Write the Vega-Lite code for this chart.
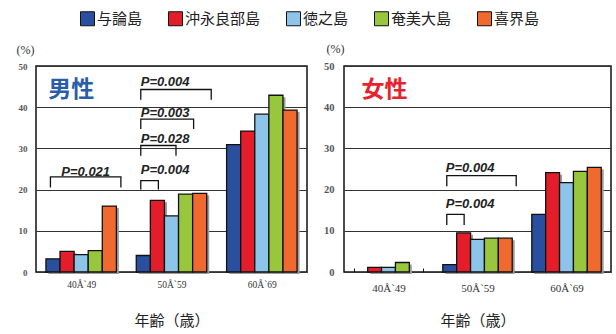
{
  "$schema": "https://vega.github.io/schema/vega-lite/v6.json",
  "background": "white",
  "padding": {"left": 15, "top": 11, "right": 2, "bottom": 2},
  "spacing": 14,
  "datasets": {
    "bars": [
      {"sex": "男性", "age": "40Å`49", "island": "与論島", "pct": 3.2},
      {"sex": "男性", "age": "40Å`49", "island": "沖永良部島", "pct": 5.0},
      {"sex": "男性", "age": "40Å`49", "island": "徳之島", "pct": 4.2},
      {"sex": "男性", "age": "40Å`49", "island": "奄美大島", "pct": 5.2},
      {"sex": "男性", "age": "40Å`49", "island": "喜界島", "pct": 16.0},
      {"sex": "男性", "age": "50Å`59", "island": "与論島", "pct": 4.0},
      {"sex": "男性", "age": "50Å`59", "island": "沖永良部島", "pct": 17.4},
      {"sex": "男性", "age": "50Å`59", "island": "徳之島", "pct": 13.6},
      {"sex": "男性", "age": "50Å`59", "island": "奄美大島", "pct": 18.9},
      {"sex": "男性", "age": "50Å`59", "island": "喜界島", "pct": 19.1},
      {"sex": "男性", "age": "60Å`69", "island": "与論島", "pct": 30.9},
      {"sex": "男性", "age": "60Å`69", "island": "沖永良部島", "pct": 34.2},
      {"sex": "男性", "age": "60Å`69", "island": "徳之島", "pct": 38.3},
      {"sex": "男性", "age": "60Å`69", "island": "奄美大島", "pct": 42.9},
      {"sex": "男性", "age": "60Å`69", "island": "喜界島", "pct": 39.3},
      {"sex": "女性", "age": "40Å`49", "island": "沖永良部島", "pct": 1.1},
      {"sex": "女性", "age": "40Å`49", "island": "徳之島", "pct": 1.1},
      {"sex": "女性", "age": "40Å`49", "island": "奄美大島", "pct": 2.3},
      {"sex": "女性", "age": "50Å`59", "island": "与論島", "pct": 1.8},
      {"sex": "女性", "age": "50Å`59", "island": "沖永良部島", "pct": 9.5},
      {"sex": "女性", "age": "50Å`59", "island": "徳之島", "pct": 7.9},
      {"sex": "女性", "age": "50Å`59", "island": "奄美大島", "pct": 8.2},
      {"sex": "女性", "age": "50Å`59", "island": "喜界島", "pct": 8.2},
      {"sex": "女性", "age": "60Å`69", "island": "与論島", "pct": 14.0},
      {"sex": "女性", "age": "60Å`69", "island": "沖永良部島", "pct": 24.1},
      {"sex": "女性", "age": "60Å`69", "island": "徳之島", "pct": 21.7},
      {"sex": "女性", "age": "60Å`69", "island": "奄美大島", "pct": 24.4},
      {"sex": "女性", "age": "60Å`69", "island": "喜界島", "pct": 25.4}
    ],
    "brackets": [
      {"sex": "男性", "age": "40Å`49", "id": "m1", "island": "与論島", "pct": 20.5, "ord": 1},
      {"sex": "男性", "age": "40Å`49", "id": "m1", "island": "与論島", "pct": 23.1, "ord": 2},
      {"sex": "男性", "age": "40Å`49", "id": "m1", "island": "喜界島", "pct": 23.1, "ord": 3},
      {"sex": "男性", "age": "40Å`49", "id": "m1", "island": "喜界島", "pct": 20.5, "ord": 4},
      {"sex": "男性", "age": "50Å`59", "id": "m2", "island": "与論島", "pct": 20.0, "ord": 1},
      {"sex": "男性", "age": "50Å`59", "id": "m2", "island": "与論島", "pct": 22.2, "ord": 2},
      {"sex": "男性", "age": "50Å`59", "id": "m2", "island": "沖永良部島", "pct": 22.2, "ord": 3},
      {"sex": "男性", "age": "50Å`59", "id": "m2", "island": "沖永良部島", "pct": 20.0, "ord": 4},
      {"sex": "男性", "age": "50Å`59", "id": "m3", "island": "与論島", "pct": 28.2, "ord": 1},
      {"sex": "男性", "age": "50Å`59", "id": "m3", "island": "与論島", "pct": 30.7, "ord": 2},
      {"sex": "男性", "age": "50Å`59", "id": "m3", "island": "徳之島", "pct": 30.7, "ord": 3},
      {"sex": "男性", "age": "50Å`59", "id": "m3", "island": "徳之島", "pct": 28.2, "ord": 4},
      {"sex": "男性", "age": "50Å`59", "id": "m4", "island": "与論島", "pct": 34.7, "ord": 1},
      {"sex": "男性", "age": "50Å`59", "id": "m4", "island": "与論島", "pct": 37.1, "ord": 2},
      {"sex": "男性", "age": "50Å`59", "id": "m4", "island": "奄美大島", "pct": 37.1, "ord": 3},
      {"sex": "男性", "age": "50Å`59", "id": "m4", "island": "奄美大島", "pct": 34.7, "ord": 4},
      {"sex": "男性", "age": "50Å`59", "id": "m5", "island": "与論島", "pct": 41.8, "ord": 1},
      {"sex": "男性", "age": "50Å`59", "id": "m5", "island": "与論島", "pct": 44.3, "ord": 2},
      {"sex": "男性", "age": "50Å`59", "id": "m5", "island": "喜界島", "pct": 44.3, "ord": 3},
      {"sex": "男性", "age": "50Å`59", "id": "m5", "island": "喜界島", "pct": 41.8, "ord": 4},
      {"sex": "女性", "age": "50Å`59", "id": "f1", "island": "与論島", "pct": 11.4, "ord": 1},
      {"sex": "女性", "age": "50Å`59", "id": "f1", "island": "与論島", "pct": 14.0, "ord": 2},
      {"sex": "女性", "age": "50Å`59", "id": "f1", "island": "沖永良部島", "pct": 14.0, "ord": 3},
      {"sex": "女性", "age": "50Å`59", "id": "f1", "island": "沖永良部島", "pct": 11.4, "ord": 4},
      {"sex": "女性", "age": "50Å`59", "id": "f2", "island": "与論島", "pct": 20.8, "ord": 1},
      {"sex": "女性", "age": "50Å`59", "id": "f2", "island": "与論島", "pct": 23.4, "ord": 2},
      {"sex": "女性", "age": "50Å`59", "id": "f2", "island": "喜界島", "pct": 23.4, "ord": 3},
      {"sex": "女性", "age": "50Å`59", "id": "f2", "island": "喜界島", "pct": 20.8, "ord": 4}
    ],
    "pvalues": [
      {"sex": "男性", "age": "40Å`49", "island": "徳之島", "pct": 24.3, "label": "P=0.021"},
      {"sex": "男性", "age": "50Å`59", "island": "与論島", "pct": 24.8, "label": "P=0.004"},
      {"sex": "男性", "age": "50Å`59", "island": "与論島", "pct": 32.2, "label": "P=0.028"},
      {"sex": "男性", "age": "50Å`59", "island": "与論島", "pct": 38.5, "label": "P=0.003"},
      {"sex": "男性", "age": "50Å`59", "island": "与論島", "pct": 46.2, "label": "P=0.004"},
      {"sex": "女性", "age": "50Å`59", "island": "与論島", "pct": 16.5, "label": "P=0.004"},
      {"sex": "女性", "age": "50Å`59", "island": "与論島", "pct": 25.3, "label": "P=0.004"}
    ],
    "panels": [
      {"sex": "男性", "age": "40Å`49", "pct": 44.2},
      {"sex": "女性", "age": "40Å`49", "pct": 44.2}
    ]
  },
  "config": {
    "view": {"stroke": "#111", "strokeWidth": 1.5},
    "axis": {"labelAngle": 0}
  },
  "hconcat": [
    {
      "width": 271,
      "height": 206,
      "encoding": {
        "x": {
          "field": "age", "type": "nominal",
          "scale": {"domain": ["40Å`49", "50Å`59", "60Å`69"], "paddingInner": 0.22, "paddingOuter": 0.11},
          "axis": {
            "title": "年齢（歳）", "domain": false, "tickBand": "extent", "tickSize": -4, "tickColor": "#111", "tickWidth": 1,
            "labelFont": "Liberation Serif", "labelFontSize": 9.5, "labelColor": "#333", "labelPadding": 11,
            "titleFont": "Noto Sans CJK JP", "titleFontSize": 15, "titleFontWeight": "normal", "titleColor": "#222",
            "titleY": 48, "titleBaseline": "middle"
          }
        },
        "y": {
          "field": "pct", "type": "quantitative",
          "scale": {"domain": [0, 50], "nice": false},
          "axis": {
            "title": "(%)", "values": [0, 10, 20, 30, 40, 50], "grid": true, "gridColor": "#333", "gridWidth": 1.2,
            "domain": false, "ticks": false,
            "labelFont": "Liberation Serif", "labelFontSize": 9, "labelFontWeight": "bold", "labelColor": "#555", "labelPadding": 9,
            "titleAngle": 0, "titleX": -20, "titleY": -17, "titleAlign": "left", "titleBaseline": "middle",
            "titleFont": "Liberation Serif", "titleFontSize": 12, "titleFontWeight": "normal", "titleColor": "#333"
          }
        }
      },
      "layer": [
        {
          "data": {"name": "bars"},
          "transform": [{"filter": "datum.sex === '男性'"}],
          "mark": {"type": "bar", "color": "#9c9c9c", "yOffset": 2},
          "encoding": {
            "xOffset": {"field": "island", "type": "nominal", "scale": {"domain": ["与論島", "沖永良部島", "徳之島", "奄美大島", "喜界島"], "range": [2.5, 72.96], "paddingInner": 0, "paddingOuter": 0}}
          }
        },
        {
          "data": {"name": "bars"},
          "transform": [{"filter": "datum.sex === '男性'"}],
          "mark": {"type": "bar", "stroke": "#111", "strokeWidth": 1.3},
          "encoding": {
            "xOffset": {"field": "island", "type": "nominal", "scale": {"domain": ["与論島", "沖永良部島", "徳之島", "奄美大島", "喜界島"], "paddingInner": 0, "paddingOuter": 0}},
            "color": {
              "field": "island", "type": "nominal",
              "scale": {"domain": ["与論島", "沖永良部島", "徳之島", "奄美大島", "喜界島"], "range": ["#2a4f9f", "#e31e2a", "#8dc5ea", "#98c73d", "#f06a2f"]},
              "legend": {
                "orient": "none", "legendX": 44, "legendY": -55, "direction": "horizontal", "title": null,
                "symbolType": "square", "symbolSize": 196, "symbolStrokeColor": "#111", "symbolStrokeWidth": 1,
                "labelFont": "Noto Sans CJK JP", "labelFontSize": 15, "labelColor": "#222", "labelOffset": 2, "columnPadding": 23
              }
            }
          }
        },
        {
          "data": {"name": "brackets"},
          "transform": [{"filter": "datum.sex === '男性'"}],
          "mark": {"type": "line", "color": "#111", "strokeWidth": 1.3},
          "encoding": {
            "xOffset": {"field": "island", "type": "nominal", "scale": {"domain": ["与論島", "沖永良部島", "徳之島", "奄美大島", "喜界島"], "range": [4.5, 74.96], "paddingInner": 0, "paddingOuter": 0}},
            "detail": {"field": "id"},
            "order": {"field": "ord"}
          }
        },
        {
          "data": {"name": "pvalues"},
          "transform": [{"filter": "datum.sex === '男性' && datum.age === '50Å`59'"}],
          "mark": {"type": "text", "align": "left", "baseline": "middle", "dx": 0, "font": "Liberation Sans", "fontStyle": "italic", "fontWeight": "bold", "fontSize": 13, "color": "#222"},
          "encoding": {
            "xOffset": {"field": "island", "type": "nominal", "scale": {"domain": ["与論島", "沖永良部島", "徳之島", "奄美大島", "喜界島"], "range": [4.5, 74.96], "paddingInner": 0, "paddingOuter": 0}},
            "text": {"field": "label"}
          }
        },
        {
          "data": {"name": "pvalues"},
          "transform": [{"filter": "datum.sex === '男性' && datum.age === '40Å`49'"}],
          "mark": {"type": "text", "align": "center", "baseline": "middle", "dx": 0, "font": "Liberation Sans", "fontStyle": "italic", "fontWeight": "bold", "fontSize": 13, "color": "#222"},
          "encoding": {
            "xOffset": {"field": "island", "type": "nominal", "scale": {"domain": ["与論島", "沖永良部島", "徳之島", "奄美大島", "喜界島"], "range": [4.5, 74.96], "paddingInner": 0, "paddingOuter": 0}},
            "text": {"field": "label"}
          }
        },
        {
          "data": {"name": "panels"},
          "transform": [{"filter": "datum.sex === '男性'"}],
          "mark": {"type": "text", "align": "left", "baseline": "middle", "dx": -33, "font": "Noto Sans CJK JP", "fontWeight": "bold", "fontSize": 23, "color": "#2a5caa"},
          "encoding": {
            "text": {"field": "sex"}
          }
        }
      ],
      "resolve": {"scale": {"xOffset": "independent"}}
    },
    {
      "width": 267,
      "height": 206,
      "encoding": {
        "x": {
          "field": "age", "type": "nominal",
          "scale": {"domain": ["40Å`49", "50Å`59", "60Å`69"], "paddingInner": 0.22, "paddingOuter": 0.11},
          "axis": {
            "title": "年齢（歳）", "domain": false, "tickBand": "extent", "tickSize": -4, "tickColor": "#111", "tickWidth": 1,
            "labelFont": "Liberation Serif", "labelFontSize": 11, "labelColor": "#333", "labelPadding": 14,
            "titleFont": "Noto Sans CJK JP", "titleFontSize": 15, "titleFontWeight": "normal", "titleColor": "#222",
            "titleY": 48, "titleBaseline": "middle"
          }
        },
        "y": {
          "field": "pct", "type": "quantitative",
          "scale": {"domain": [0, 50], "nice": false},
          "axis": {
            "title": "(%)", "values": [0, 10, 20, 30, 40, 50], "grid": true, "gridColor": "#333", "gridWidth": 1.2,
            "domain": false, "ticks": false,
            "labelFont": "Liberation Serif", "labelFontSize": 10.5, "labelFontWeight": "bold", "labelColor": "#555", "labelPadding": 10,
            "titleAngle": 0, "titleX": -18, "titleY": -18, "titleAlign": "left", "titleBaseline": "middle",
            "titleFont": "Liberation Serif", "titleFontSize": 12, "titleFontWeight": "normal", "titleColor": "#333"
          }
        }
      },
      "layer": [
        {
          "data": {"name": "bars"},
          "transform": [{"filter": "datum.sex === '女性'"}],
          "mark": {"type": "bar", "color": "#9c9c9c", "yOffset": 2},
          "encoding": {
            "xOffset": {"field": "island", "type": "nominal", "scale": {"domain": ["与論島", "沖永良部島", "徳之島", "奄美大島", "喜界島"], "range": [2.5, 71.92], "paddingInner": 0, "paddingOuter": 0}}
          }
        },
        {
          "data": {"name": "bars"},
          "transform": [{"filter": "datum.sex === '女性'"}],
          "mark": {"type": "bar", "stroke": "#111", "strokeWidth": 1.3},
          "encoding": {
            "xOffset": {"field": "island", "type": "nominal", "scale": {"domain": ["与論島", "沖永良部島", "徳之島", "奄美大島", "喜界島"], "paddingInner": 0, "paddingOuter": 0}},
            "color": {
              "field": "island", "type": "nominal",
              "scale": {"domain": ["与論島", "沖永良部島", "徳之島", "奄美大島", "喜界島"], "range": ["#2a4f9f", "#e31e2a", "#8dc5ea", "#98c73d", "#f06a2f"]}
            }
          }
        },
        {
          "data": {"name": "brackets"},
          "transform": [{"filter": "datum.sex === '女性'"}],
          "mark": {"type": "line", "color": "#111", "strokeWidth": 1.3},
          "encoding": {
            "xOffset": {"field": "island", "type": "nominal", "scale": {"domain": ["与論島", "沖永良部島", "徳之島", "奄美大島", "喜界島"], "range": [4, 73.42], "paddingInner": 0, "paddingOuter": 0}},
            "detail": {"field": "id"},
            "order": {"field": "ord"}
          }
        },
        {
          "data": {"name": "pvalues"},
          "transform": [{"filter": "datum.sex === '女性'"}],
          "mark": {"type": "text", "align": "left", "baseline": "middle", "dx": -1, "font": "Liberation Sans", "fontStyle": "italic", "fontWeight": "bold", "fontSize": 13, "color": "#222"},
          "encoding": {
            "xOffset": {"field": "island", "type": "nominal", "scale": {"domain": ["与論島", "沖永良部島", "徳之島", "奄美大島", "喜界島"], "range": [4, 73.42], "paddingInner": 0, "paddingOuter": 0}},
            "text": {"field": "label"}
          }
        },
        {
          "data": {"name": "panels"},
          "transform": [{"filter": "datum.sex === '女性'"}],
          "mark": {"type": "text", "align": "left", "baseline": "middle", "dx": -27, "font": "Noto Sans CJK JP", "fontWeight": "bold", "fontSize": 23, "color": "#e8222d"},
          "encoding": {
            "text": {"field": "sex"}
          }
        }
      ],
      "resolve": {"scale": {"xOffset": "independent"}}
    }
  ]
}
